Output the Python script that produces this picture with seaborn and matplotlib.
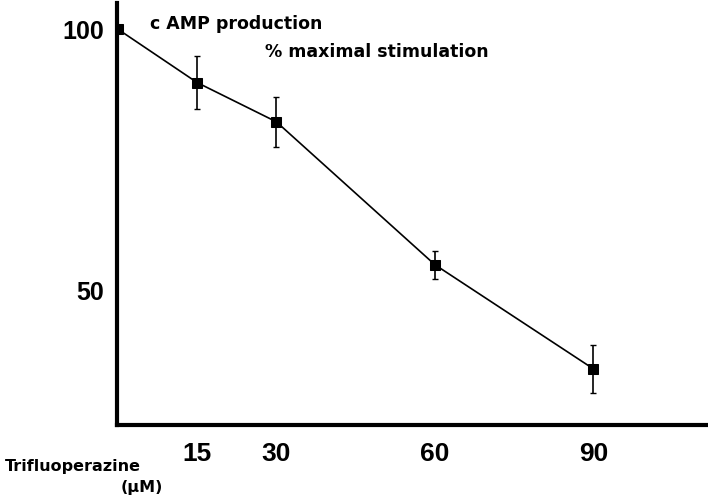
import matplotlib
matplotlib.use("Agg")
import matplotlib.pyplot as plt
import seaborn as sns
import pandas as pd

# data
conc = [0, 15, 30, 60, 90]
camp = [100.0, 89.8, 82.3, 55.0, 35.1]
sem = [0.0, 5.1, 4.8, 2.7, 4.6]

sns.set_style("white")
plt.rcParams["font.family"] = ["DejaVu Sans"]
plt.rcParams["text.color"] = "black"
narrow = ["Liberation Sans", "DejaVu Sans"]

df = pd.DataFrame({"conc": conc, "camp": camp})

fig = plt.figure(figsize=(7.08, 5.01), dpi=100)
ax = fig.add_axes([0.165, 0.152, 0.835, 0.842])

sns.lineplot(data=df, x="conc", y="camp", ax=ax, color="black", linewidth=1.2,
             marker="s", markersize=6.5, markeredgecolor="black")
ax.errorbar(conc, camp, yerr=sem, fmt="none", ecolor="black", elinewidth=1.2,
            capsize=2, capthick=1)

ax.set_xlim(-0.2, 111.7)
ax.set_ylim(24.4, 105)
ax.set_xticks([15, 30, 60, 90])
ax.set_yticks([50, 100])
ax.set_xticklabels(["15", "30", "60", "90"], family=narrow, fontweight="bold", fontsize=19)
ax.set_yticklabels(["50", "100"], family=narrow, fontweight="bold", fontsize=18)
ax.tick_params(axis="x", direction="out", length=3, width=0.6, pad=9, colors="black")
ax.tick_params(axis="y", direction="out", length=3, width=0.6, pad=6, colors="black")
ax.set_xlabel("")
ax.set_ylabel("")

for s in ["top", "right"]:
    ax.spines[s].set_visible(False)
for s in ["left", "bottom"]:
    ax.spines[s].set_linewidth(3)
    ax.spines[s].set_color("black")

# annotation inside the plot
fig.text(0.212, 0.952, "c AMP production", fontsize=12.5, fontweight="bold", ha="left", va="center")
fig.text(0.374, 0.896, "% maximal stimulation", fontsize=12.5, fontweight="bold", ha="left", va="center")

# x axis label
fig.text(0.007, 0.068, "Trifluoperazine", fontsize=11.5, fontweight="bold", ha="left", va="center")
fig.text(0.17, 0.026, "(µM)", fontsize=11.5, fontweight="bold", ha="left", va="center")

plt.savefig("out.png", dpi=100)
